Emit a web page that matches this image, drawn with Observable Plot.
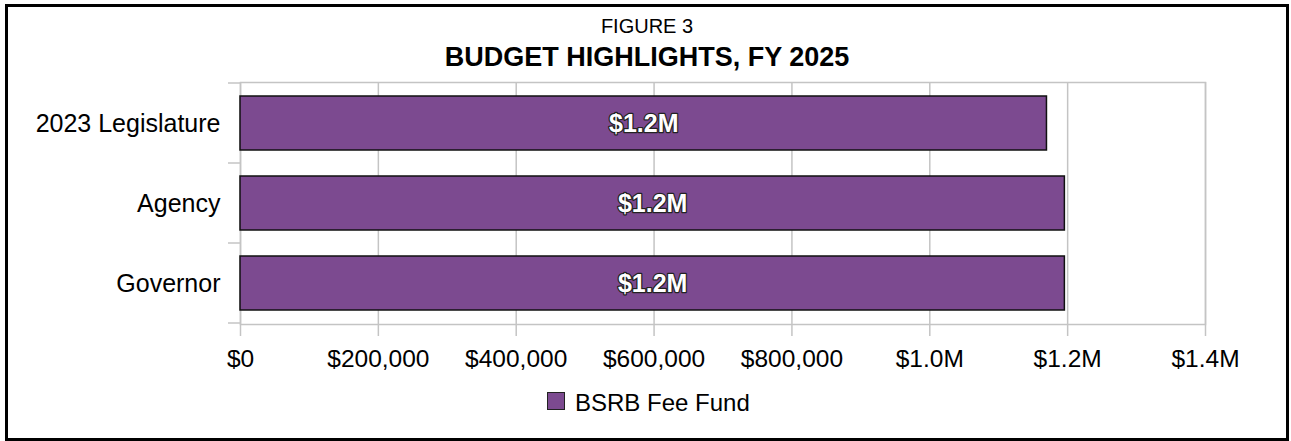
<!DOCTYPE html>
<html>
<head>
<meta charset="utf-8">
<script src="https://cdn.jsdelivr.net/npm/d3@7"></script>
<script src="https://cdn.jsdelivr.net/npm/@observablehq/plot@0.6"></script>
<style>
  html, body { margin: 0; padding: 0; background: #fff; }
  #wrap { position: relative; width: 1291px; height: 441px; overflow: hidden; font-family: "Liberation Sans", Arial, sans-serif; color: #000; }
  #box { position: absolute; left: 5px; top: 4px; width: 1278px; height: 431px; border: 3px solid #000; }
  .t { position: absolute; left: 5px; width: 1284px; text-align: center; line-height: 1; white-space: nowrap; }
  #fig { top: 16px; font-size: 20px; }
  #title { top: 44px; font-size: 27px; font-weight: bold; }
  #chart { position: absolute; left: 0; top: 70px; }
  #legend { position: absolute; left: 547px; top: 391px; display: flex; align-items: flex-start; font-size: 24px; line-height: 1; }
  #legend .sw { width: 16px; height: 16px; border: 1px solid #222; margin-top: 1px; margin-right: 10px; }
</style>
</head>
<body>
<div id="wrap">
  <div id="box"></div>
  <div class="t" id="fig">FIGURE 3</div>
  <div class="t" id="title">BUDGET HIGHLIGHTS, FY 2025</div>
  <div id="chart"></div>
  <div id="legend"></div>
</div>
<script>
const categories = ["2023 Legislature", "Agency", "Governor"];
const values = [1170000, 1196000, 1196000];
const valueLabels = ["$1.2M", "$1.2M", "$1.2M"];
const xTicks = [0, 200000, 400000, 600000, 800000, 1000000, 1200000, 1400000];
const xTickLabels = ["$0", "$200,000", "$400,000", "$600,000", "$800,000", "$1.0M", "$1.2M", "$1.4M"];
const seriesName = "BSRB Fee Fund";

const purple = "#7C4A90";
const gridColor = "#C4C4C4";

const data = categories.map((c, i) => ({category: c, value: values[i], label: valueLabels[i]}));

const plot = Plot.plot({
  width: 1291,
  height: 310,
  marginLeft: 240,
  marginRight: 86,
  marginTop: 12,
  marginBottom: 56,
  style: {fontFamily: "'Liberation Sans', Arial, sans-serif", fontSize: "24.5px", color: "#000", background: "transparent", overflow: "visible"},
  x: {domain: [0, 1400000], label: null},
  y: {domain: categories, paddingInner: 0.325, paddingOuter: 0.1625, label: null},
  marks: [
    Plot.gridX(xTicks, {stroke: gridColor, strokeOpacity: 1, strokeWidth: 1.5}),
    Plot.frame({stroke: gridColor, strokeWidth: 1.5}),
    Plot.barX(data, {x: "value", y: "category", fill: purple, stroke: "#111", strokeWidth: 1.5}),
    Plot.text(data, {x: d => d.value / 2, y: "category", text: "label", fill: "#fff", stroke: "#222", strokeWidth: 2.5, paintOrder: "stroke", fontWeight: "bold", fontSize: 25}),
    Plot.axisX(xTicks, {tickSize: 12, tickPadding: 13, stroke: gridColor, strokeWidth: 1.5, label: null, tickFormat: d => xTickLabels[xTicks.indexOf(d)]}),
    Plot.axisY({tickSize: 0, tickPadding: 20, fontSize: 25, label: null})
  ]
});
document.getElementById("chart").appendChild(plot);

// category boundary tick marks (Excel-style), from the y band scale
const ys = plot.scale("y");
const xs = plot.scale("x");
const gap = (ys.step - ys.bandwidth) / 2;
const bounds = categories.map(c => ys.apply(c) - gap);
bounds.push(ys.apply(categories[categories.length - 1]) + ys.bandwidth + gap);
const x0 = xs.apply(0);
d3.select(plot).append("g")
  .attr("stroke", gridColor).attr("stroke-width", 1.5)
  .selectAll("line").data(bounds).join("line")
  .attr("x1", x0 - 12).attr("x2", x0)
  .attr("y1", d => d).attr("y2", d => d);

// legend
const lg = document.getElementById("legend");
const sw = document.createElement("div");
sw.className = "sw";
sw.style.background = purple;
const lt = document.createElement("span");
lt.textContent = seriesName;
lg.appendChild(sw);
lg.appendChild(lt);
</script>
</body>
</html>
